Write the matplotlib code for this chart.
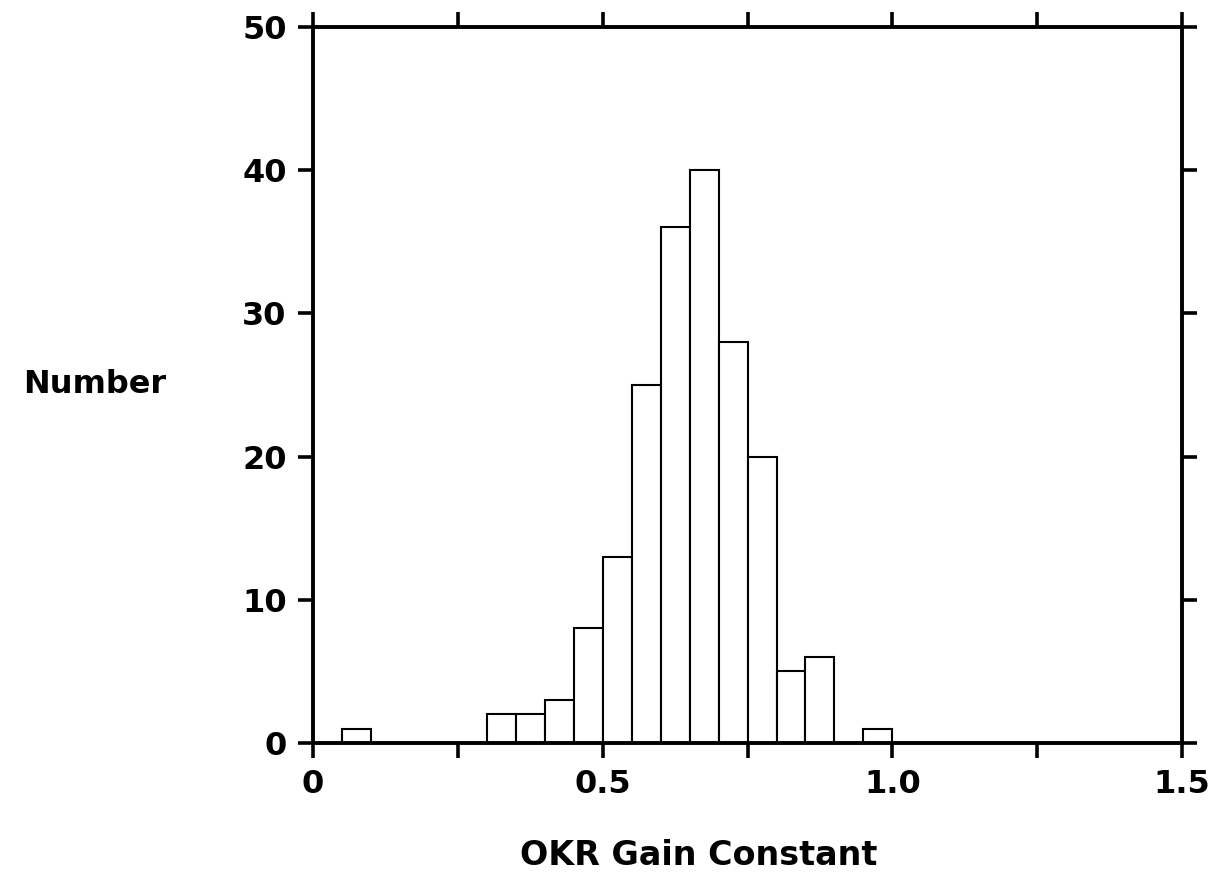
import numpy as np
import matplotlib
matplotlib.use("Agg")
import matplotlib.pyplot as plt

# histogram of OKR gain constants, bin width 0.05
bin_left = [0.05, 0.30, 0.35, 0.40, 0.45, 0.50, 0.55, 0.60, 0.65, 0.70,
            0.75, 0.80, 0.85, 0.95]
counts = [1, 2, 2, 3, 8, 13, 25, 36, 40, 28, 20, 5, 6, 1]
bin_width = 0.05

x_major = [0, 0.5, 1.0, 1.5]
x_major_labels = ["0", "0.5", "1.0", "1.5"]
x_minor = [0.25, 0.75, 1.25]
y_ticks = [0, 10, 20, 30, 40, 50]

plt.rcParams["font.family"] = ["DejaVu Sans"]
plt.rcParams["font.weight"] = "bold"

fig = plt.figure(figsize=(12.18, 8.82), dpi=100)
ax = fig.add_axes([0.257, 0.1576, 0.7135, 0.8118])

ax.bar(bin_left, counts, width=bin_width, align="edge", facecolor="white",
       edgecolor="black", linewidth=1.5, zorder=2)

ax.set_xlim(0, 1.5)
ax.set_ylim(0, 50)
ax.set_xticks(x_major)
ax.set_xticklabels(x_major_labels)
ax.set_xticks(x_minor, minor=True)
ax.set_yticks(y_ticks)

for s in ax.spines.values():
    s.set_linewidth(2.8)
    s.set_zorder(3)

ax.tick_params(which="both", direction="out", top=True, right=True,
               length=11, width=2.6, labelsize=23, pad=8)
for lbl in ax.get_xticklabels() + ax.get_yticklabels():
    lbl.set_fontweight("bold")

fig.text(0.078, 0.5635, "Number", fontsize=23, fontweight="bold",
         ha="center", va="center")
fig.text(0.574, 0.03, "OKR Gain Constant", fontsize=24, fontweight="bold",
         ha="center", va="center")

fig.savefig("out.png", dpi=100)
